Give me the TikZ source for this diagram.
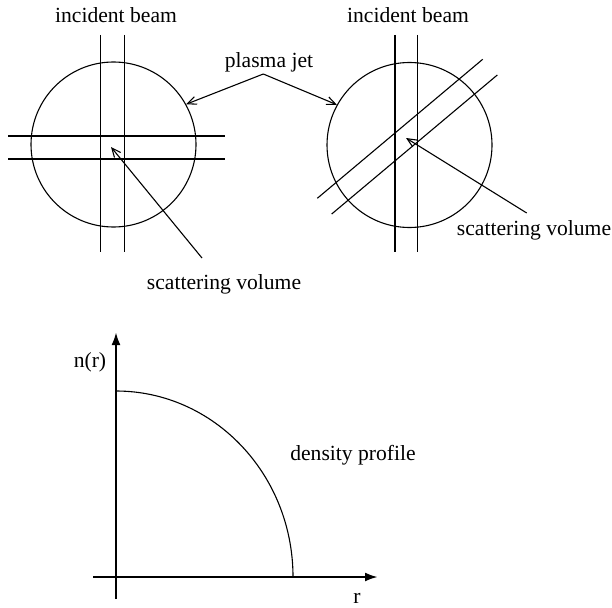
\documentclass[tikz,border=0pt]{standalone}
\usepackage{fontspec}
\setmainfont{Liberation Serif}
\usetikzlibrary{arrows.meta}
\begin{document}
\begin{tikzpicture}[x=1pt,y=-1pt,
  lbl/.style={inner sep=0pt,font=\fontsize{21.6}{26}\selectfont},
  ring/.style={draw,circle,line width=1.1pt,minimum size=165pt,inner sep=0pt},
  beam/.style={line width=1.1pt},
  jet/.style={line width=1.6pt},
  pointer/.style={line width=1.1pt,-{Straight Barb[length=9pt,width=8pt]}},
  axis/.style={line width=2.4pt,-{Latex[length=13pt,width=9pt]}}]
\useasboundingbox (0,0) rectangle (612,607);
% left
\node[ring] (c1) at (113.5,144.5) {};
\draw[beam] (100.7,35) -- (100.7,252);
\draw[beam] (124.3,35) -- (124.3,252);
\draw[jet] (8,136) -- (225,136);
\draw[jet] (8,159) -- (225,159);
\node[lbl] (ib1) at (116,15) {incident beam};
% right
\node[ring] (c2) at (409.5,145) {};
\draw[beam] (395,35) -- (395,252);
\draw[beam] (417.7,35) -- (417.7,252);
\draw[beam] (317.3,198.3) -- (482.7,59.3);
\draw[beam] (331.7,214) -- (497.3,75);
\node[lbl] (ib2) at (408,15) {incident beam};
% plasma jet
\node[lbl] (pj) at (269,62) {plasma jet};
\coordinate (apex) at (263.3,74);
\draw[pointer] (apex) -- (c1.29);
\draw[pointer] (apex) -- (c2.151);
% scattering volume
\node[lbl] (sv1) at (224,284) {scattering volume};
\coordinate (sv1s) at (202,258);
\coordinate (sv1t) at (111,147);
\draw[pointer] (sv1s) -- (sv1t);
\node[lbl] (sv2) at (534,230) {scattering volume};
\coordinate (sv2s) at (526.7,213);
\coordinate (sv2t) at (406,138);
\draw[pointer] (sv2s) -- (sv2t);
% graph
\coordinate (o) at (116,577);
\coordinate (ytop) at (116,332);
\coordinate (ybot) at (116,599);
\coordinate (xl) at (93,577);
\coordinate (xr) at (378,577);
\draw[axis] (ybot) -- (ytop);
\draw[axis] (xl) -- (xr);
\draw[line width=1.1pt] (116,391) arc[start angle=-90,end angle=0,x radius=177,y radius=186];
\node[lbl] (nr) at (90,362) {n(r)};
\node[lbl] (rl) at (357,598) {r};
\node[lbl] (dp) at (353,455) {density profile};
\end{tikzpicture}
\end{document}
